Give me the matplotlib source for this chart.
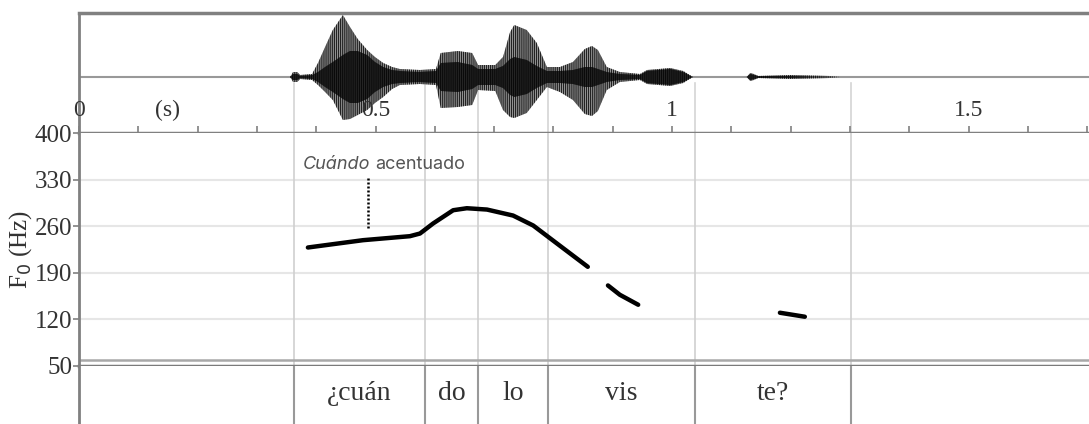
import matplotlib
matplotlib.use("Agg")
import matplotlib.pyplot as plt
import numpy as np

# ---------------- data ----------------
# waveform amplitude envelope (time in s, amplitudes in panel units)
wave_t = [0.356, 0.361, 0.368, 0.373, 0.393, 0.403, 0.415, 0.428, 0.445, 0.457,
          0.470, 0.486, 0.499, 0.513, 0.528, 0.541, 0.575, 0.602, 0.610, 0.639,
          0.663, 0.673, 0.702, 0.715, 0.727, 0.734, 0.755, 0.772, 0.789, 0.811,
          0.833, 0.853, 0.865, 0.875, 0.890, 0.912, 0.946, 0.958, 0.997, 1.019,
          1.035, 1.126, 1.132, 1.138, 1.145, 1.199, 1.266, 1.283]
wave_up = [0, 5, 5, 2, 3, 14, 30, 47, 62, 50,
           38, 27, 20, 14, 10, 8, 7, 8, 24, 26,
           24, 12, 12, 20, 45, 52, 47, 34, 10, 10,
           15, 28, 31, 27, 10, 5, 3, 7, 9, 6,
           0, 0, 4, 3, 1, 2, 1, 0]
wave_down = [0, 5, 5, 2, 3, 8, 15, 23, 43, 42,
             38, 33, 26, 20, 12, 8, 7, 8, 31, 30,
             28, 13, 14, 33, 40, 41, 36, 23, 10, 15,
             23, 37, 39, 34, 13, 5, 3, 7, 9, 6,
             0, 0, 4, 3, 1, 2, 1, 0]
wave_core = [0, 3, 3, 1, 2, 5, 10, 15, 22, 26,
             26, 22, 15, 10, 7, 6, 5, 6, 14, 15,
             12, 8, 8, 11, 18, 20, 17, 11, 6, 6,
             7, 10, 10, 8, 5, 3, 2, 6, 8, 5,
             0, 0, 3, 2, 1, 1, 0, 0]

# F0 contour segments (time s, Hz)
f0_seg1_t = [0.386, 0.479, 0.558, 0.575, 0.597, 0.631, 0.654, 0.688, 0.732, 0.766, 0.806, 0.858]
f0_seg1_hz = [228, 239, 245, 249, 264, 284, 287, 285, 276, 261, 234, 199]
f0_seg2_t = [0.892, 0.912, 0.943]
f0_seg2_hz = [171, 157, 142]
f0_seg3_t = [1.182, 1.224]
f0_seg3_hz = [130, 124]

# syllable tier
boundaries = [0.3626, 0.5835, 0.673, 0.791, 1.039, 1.302]
syllables = ["¿cuán", "do", "lo", "vis", "te?"]

f0_ticks = [50, 120, 190, 260, 330, 400]
time_labels = ["0", "0.5", "1", "1.5"]
time_label_pos = [0, 0.5, 1.0, 1.5]
time_minor = [round(0.1 * i, 1) for i in range(0, 18)]

annot_t = 0.487
annot_hz = (257, 332)

# ---------------- figure ----------------
plt.rcParams["hatch.linewidth"] = 0.9
W, H = 1089, 424
fig = plt.figure(figsize=(W / 100, H / 100), dpi=100)
x0 = 79
xmax = (W - x0) / 593.0

def pos(top_px, bot_px):
    return [x0 / W, 1 - bot_px / H, 1 - x0 / W, (bot_px - top_px) / H]

serif = "Liberation Serif"
tcol = "#333333"
spine_col = "#808080"

ax_w = fig.add_axes(pos(13, 133))
ax_f = fig.add_axes(pos(133, 366))
ax_t = fig.add_axes(pos(366, 424))

for a in (ax_w, ax_f, ax_t):
    a.set_xlim(0, xmax)
    a.set_facecolor("white")
    for s in a.spines.values():
        s.set_visible(False)

# ---- waveform panel ----
ax_w.set_ylim(-56, 64)
ax_w.axhline(0, color="#999999", lw=1.5, zorder=1)
up = np.array(wave_up, float)
dn = np.array(wave_down, float)
core = np.array(wave_core, float)
ax_w.fill_between(wave_t, -dn, up, facecolor="#a8a8a8", edgecolor="#222222",
                  hatch="||||||||", linewidth=0, zorder=2)
ax_w.fill_between(wave_t, -core, core, facecolor="#2a2a2a", edgecolor="#0a0a0a",
                  hatch="||||||||", linewidth=0, zorder=3)
ax_w.spines["top"].set_visible(True)
ax_w.spines["top"].set_color(spine_col)
ax_w.spines["top"].set_linewidth(2.5)
ax_w.spines["left"].set_visible(True)
ax_w.spines["left"].set_color(spine_col)
ax_w.spines["left"].set_linewidth(2)
ax_w.spines["bottom"].set_visible(True)
ax_w.spines["bottom"].set_color(spine_col)
ax_w.spines["bottom"].set_linewidth(2.5)
ax_w.set_yticks([])
ax_w.set_xticks(time_minor)
ax_w.tick_params(axis="x", direction="in", length=5, width=1.2, color=spine_col,
                 labelbottom=False)
for b in boundaries:
    ax_w.plot([b, b], [-6, -56], color="#d4d4d4", lw=1.2, zorder=1)
for lab, p in zip(time_labels, time_label_pos):
    ax_w.text(p, -33, lab, ha="center", va="center", fontsize=17, family=serif,
              color=tcol, zorder=5)
ax_w.text(0.15, -33, "(s)", ha="center", va="center", fontsize=17, family=serif,
          color=tcol, zorder=5)

# ---- F0 panel ----
ax_f.set_ylim(50, 400)
for yv in f0_ticks[1:-1]:
    ax_f.axhline(yv, color="#e6e6e6", lw=1.5, zorder=0)
ax_f.axhline(59.5, color="#a8a8a8", lw=1.8, zorder=1)
ax_f.spines["left"].set_visible(True)
ax_f.spines["left"].set_color(spine_col)
ax_f.spines["left"].set_linewidth(2)
ax_f.spines["bottom"].set_visible(True)
ax_f.spines["bottom"].set_color("#7a7a7a")
ax_f.spines["bottom"].set_linewidth(2.5)
ax_f.set_yticks(f0_ticks)
ax_f.set_yticklabels([str(v) for v in f0_ticks], family=serif, fontsize=18, color=tcol)
ax_f.tick_params(axis="y", direction="out", length=4, width=1.2, color=spine_col, pad=1)
ax_f.set_xticks([])
for b in boundaries:
    ax_f.axvline(b, color="#d0d0d0", lw=1.2, zorder=0)
ax_f.set_ylabel("F$_0$ (Hz)", family=serif, fontsize=18, color=tcol)
ax_f.yaxis.set_label_coords(-0.0445, 0.5)

for tt, hz in ((f0_seg1_t, f0_seg1_hz), (f0_seg2_t, f0_seg2_hz), (f0_seg3_t, f0_seg3_hz)):
    ax_f.plot(tt, hz, color="black", lw=3.2, solid_capstyle="round",
              solid_joinstyle="round", zorder=4)

ax_f.plot([annot_t, annot_t], annot_hz, color="black", lw=1.8, ls=(0, (0.8, 0.8)), zorder=4)
ax_f.text(0.378, 353, "Cuándo", ha="left", va="center", fontsize=13,
          family="Inter", style="italic", color="#555555", zorder=5)
ax_f.text(0.499, 353, "acentuado", ha="left", va="center", fontsize=13,
          family="Inter", color="#555555", zorder=5)

# ---- tier panel ----
ax_t.set_ylim(0, 1)
ax_t.set_xticks([])
ax_t.set_yticks([])
ax_t.spines["left"].set_visible(True)
ax_t.spines["left"].set_color(spine_col)
ax_t.spines["left"].set_linewidth(2)
for b in boundaries:
    ax_t.axvline(b, color="#999999", lw=1.5, zorder=1)
for i, s in enumerate(syllables):
    c = (boundaries[i] + boundaries[i + 1]) / 2
    ax_t.text(c, 0.52, s, ha="center", va="center", fontsize=20, family=serif,
              color=tcol)

fig.savefig("out.png", dpi=100)
